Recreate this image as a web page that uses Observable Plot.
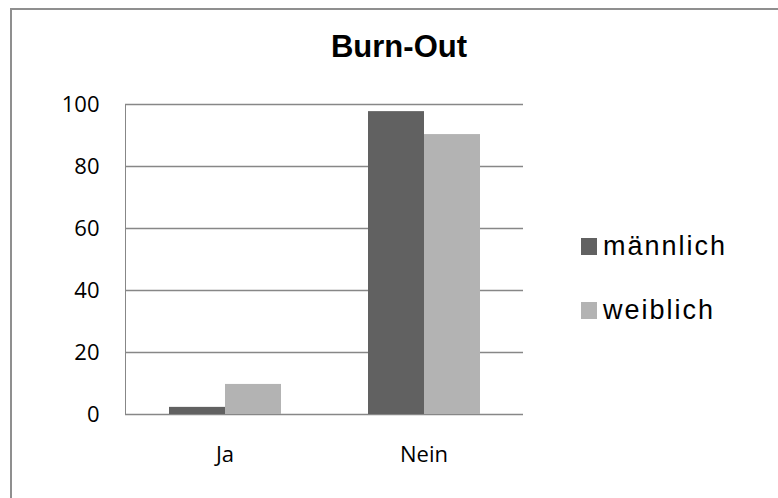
<!DOCTYPE html>
<html>
<head>
<meta charset="utf-8">
<script src="https://cdn.jsdelivr.net/npm/d3@7"></script>
<script src="https://cdn.jsdelivr.net/npm/@observablehq/plot@0.6"></script>
<style>
  html, body { margin: 0; padding: 0; background: #fff; }
  #wrap { position: relative; width: 778px; height: 498px; overflow: hidden; background: #fff; }
  #border { position: absolute; left: 10px; top: 8px; width: 900px; height: 600px;
            border-top: 2px solid #8f8f8f; border-left: 2px solid #8f8f8f; box-sizing: border-box; }
  #title { position: absolute; left: 0; top: 31px; width: 798px; text-align: center;
           font-family: "Liberation Sans", Arial, sans-serif; font-weight: bold; font-size: 31px; line-height: 1; color: #000; }
  #chart { position: absolute; left: 0; top: 70px; }
  #chart svg text { fill: #000; }
  #legend { position: absolute; left: 581px; top: 0; font-family: "Liberation Sans", Arial, sans-serif;
            font-size: 27px; letter-spacing: 2px; color: #000; }
  .item { position: absolute; left: 0; white-space: nowrap; display: flex; align-items: center; }
  .sw { width: 16px; height: 17px; margin-right: 6px; flex: none; }
</style>
</head>
<body>
<div id="wrap">
  <div id="border"></div>
  <div id="title"></div>
  <div id="chart"></div>
  <div id="legend"></div>
</div>
<script>
const title = "Burn-Out";
const categories = ["Ja", "Nein"];
const genders = ["männlich", "weiblich"];
const maennlich = [2.3, 97.7];
const weiblich = [9.7, 90.3];
const colors = ["#616161", "#b3b3b3"];
const yTicks = [0, 20, 40, 60, 80, 100];

const series = [maennlich, weiblich];
const data = categories.flatMap((c, i) =>
  genders.map((g, j) => ({category: c, gender: g, value: series[j][i]}))
);

document.getElementById("title").textContent = title;

const chart = Plot.plot({
  width: 778,
  height: 428,
  marginTop: 34,
  marginBottom: 84,
  marginLeft: 124,
  marginRight: 255,
  style: {fontFamily: "'Open Sans', sans-serif", fontSize: "22px", color: "#878787", background: "transparent"},
  fx: {domain: categories, padding: 0, label: null, axis: "bottom", tickSize: 0, tickPadding: 32},
  x: {domain: genders, paddingInner: 0, paddingOuter: 0.75, axis: null},
  y: {domain: [0, 100], ticks: yTicks, tickSize: 0, tickPadding: 26, line: true, label: null},
  color: {domain: genders, range: colors},
  marks: [
    Plot.gridY(yTicks, {stroke: "#878787", strokeOpacity: 1, strokeWidth: 1.3}),
    Plot.barY(data, {fx: "category", x: "gender", y: "value", fill: "gender"})
  ]
});
document.getElementById("chart").appendChild(chart);

const legend = document.getElementById("legend");
const legendTops = [231, 295];
genders.forEach((g, i) => {
  const item = document.createElement("div");
  item.className = "item";
  item.style.top = legendTops[i] + "px";
  const sw = document.createElement("span");
  sw.className = "sw";
  sw.style.background = colors[i];
  const t = document.createElement("span");
  t.textContent = g;
  item.appendChild(sw);
  item.appendChild(t);
  legend.appendChild(item);
});
</script>
</body>
</html>
